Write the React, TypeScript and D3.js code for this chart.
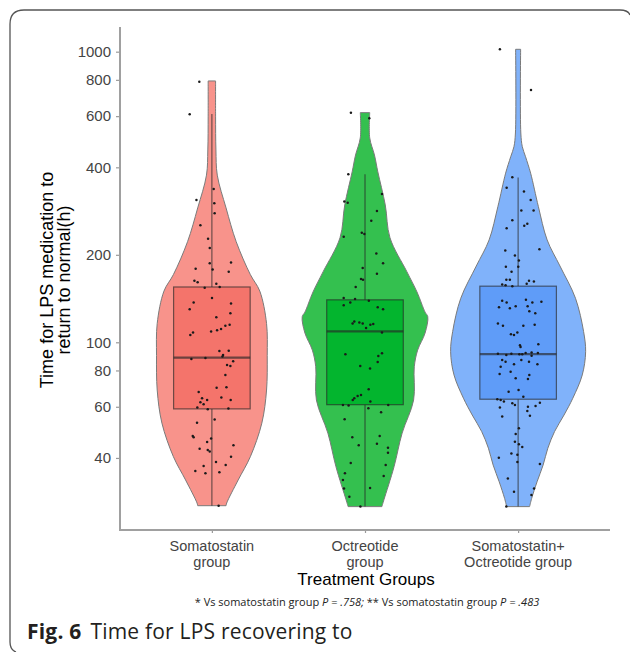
import React, { useEffect, useRef } from 'react';
import * as d3 from 'd3';

const groups = ['Somatostatin group', 'Octreotide group', 'Somatostatin+ Octreotide group'];
const groupLabels = [['Somatostatin', 'group'], ['Octreotide', 'group'], ['Somatostatin+', 'Octreotide group']];
const violinFill = ['#f8938b', '#34c04f', '#80b2fa'];
const boxFill = ['#f4746b', '#03b52e', '#5f9cf8'];

const yTicks = [40, 60, 80, 100, 200, 400, 600, 800, 1000];

// box statistics (h)
const lowerWhisker = [27.4, 27.2, 27.2];
const q1 = [59, 61, 63.7];
const medians = [88.5, 109, 91];
const q3 = [155, 140, 156];
const upperWhisker = [610, 379, 369];

// violin outlines: [value, relative density]
const violinSomatostatin: [number, number][] = [
  [793, 0.055], [600, 0.055], [459, 0.06], [376, 0.08], [290, 0.21], [222, 0.36], [171, 0.57],
  [150, 0.71], [116, 0.81], [90, 0.82], [68.5, 0.81], [52.7, 0.74], [40.4, 0.57], [33.6, 0.39],
  [28.0, 0.22], [27.4, 0.21],
];
const violinOctreotide: [number, number][] = [
  [617, 0.07], [505, 0.07], [441, 0.14], [386, 0.19], [297, 0.3], [229, 0.37], [175, 0.62],
  [149, 0.77], [127, 0.89], [122.5, 0.93], [107.6, 0.89], [94, 0.78], [82.4, 0.73], [63.3, 0.72],
  [48.7, 0.55], [37.3, 0.43], [28.7, 0.28], [27.2, 0.25],
];
const violinCombined: [number, number][] = [
  [1019, 0.037], [525, 0.04], [471, 0.062], [435, 0.11], [382, 0.185], [293, 0.3], [225, 0.43],
  [183, 0.62], [141.7, 0.85], [108.8, 0.97], [92.8, 1.0], [77.2, 0.95], [64.2, 0.81], [56.2, 0.68],
  [49.3, 0.54], [43.2, 0.44], [37.8, 0.37], [33.1, 0.28], [29.0, 0.2], [27.2, 0.17],
];

// jittered observations: [value, jitter in category units]
const pointsSomatostatin: [number, number][] = [
  [788, -0.082], [609, -0.145], [337, 0.012], [309, -0.101], [301, 0.016], [278, 0.018], [253, -0.075],
  [227, -0.025], [211, -0.014], [188, 0.125], [187, -0.014], [179, -0.106], [178, 0.005], [175, 0.11],
  [163, -0.114], [161, -0.093], [159, 0.029], [155, 0.051], [154, -0.047], [142, 0.001], [137, -0.119],
  [136, 0.125], [130, -0.145], [126, 0.121], [122, 0.029], [115, 0.116], [114, 0.088], [111, 0.06],
  [110, 0.034], [109, -0.005], [108, -0.123], [106, -0.141], [93.3, 0.049], [93.5, 0.11], [90.4, 0.073],
  [89.4, 0.069], [87.6, -0.134], [88.3, -0.042], [86.0, 0.139], [83.5, 0.099], [82.8, 0.121], [77.2, 0.088],
  [69.8, 0.031], [70.1, 0.095], [67.5, -0.086], [64.2, -0.064], [63.3, -0.031], [62.2, -0.075], [61.2, -0.054],
  [64.6, 0.062], [63.3, 0.123], [59.7, -0.095], [58.8, -0.027], [59.2, 0.108], [54.2, 0.018], [52.9, -0.097],
  [47.6, -0.125], [47.1, -0.119], [46.7, -0.005], [45.4, -0.031], [44.2, 0.141], [43.0, -0.08], [42.6, -0.027],
  [42.1, -0.014], [40.4, 0.125], [38.7, 0.027], [37.8, 0.09], [37.5, -0.054], [36.1, -0.108], [35.4, -0.042],
  [35.7, 0.049], [27.4, 0.044],
];
const pointsOctreotide: [number, number][] = [
  [617, -0.092], [590, 0.028], [379, -0.109], [324, 0.111], [305, -0.135], [302, -0.113], [283, 0.078],
  [262, 0.041], [238, -0.021], [236, -0.004], [231, -0.139], [202, 0.074], [187, 0.118], [180, -0.015],
  [172, 0.078], [165, -0.026], [164, -0.013], [155, -0.061], [142, -0.139], [141, -0.065], [137, -0.096],
  [139, 0.025], [134, -0.139], [132, 0.083], [130, 0.118], [116, -0.081], [118, -0.07], [117, -0.037],
  [116, -0.015], [112, 0.007], [115, 0.035], [115.5, 0.054], [108, 0.111], [90.9, -0.128], [91.6, 0.111],
  [89.7, 0.087], [85.5, 0.083], [82.8, -0.031], [81.2, 0.033], [68.9, 0.024], [65.9, -0.026], [65.4, -0.048],
  [64.2, -0.07], [63.3, -0.08], [62.5, 0.035], [60.8, -0.144], [60.6, -0.107], [60.8, 0.152], [59.3, 0.022],
  [57.4, 0.105], [54.3, -0.133], [47.1, -0.083], [47.6, 0.096], [44.2, -0.041], [44.8, 0.078], [43.4, 0.15],
  [41.7, 0.15], [38.4, -0.093], [37.8, 0.135], [35.4, -0.131], [34.7, 0.122], [33.6, -0.144], [31.4, -0.137],
  [31.5, 0.033], [29.4, -0.102], [27.2, -0.03],
];
const pointsCombined: [number, number][] = [
  [1019, -0.119], [738, 0.084], [370, -0.038], [340, -0.075], [330, 0.038], [309, 0.082], [284, 0.021],
  [284, 0.101], [263, -0.038], [256, 0.06], [252, 0.04], [247, -0.075], [207, -0.084], [209, 0.139],
  [199, -0.021], [191, 0.005], [182, -0.08], [182, 0.001], [175, -0.043], [164, -0.077], [164, -0.054],
  [158, -0.104], [157, -0.082], [156, -0.038], [163, 0.071], [162, 0.103], [159, 0.056], [139, -0.104],
  [137, -0.075], [132, -0.125], [131, -0.054], [133, -0.016], [140, 0.051], [137, 0.093], [138, 0.152],
  [133, 0.062], [128, 0.073], [126, 0.112], [116, -0.132], [114, -0.099], [114, 0.034], [115, 0.108],
  [106.5, -0.047], [106, -0.027], [108, -0.005], [98.4, 0.132], [97.7, 0.012], [96.3, 0.016], [91.4, -0.132],
  [90.4, -0.077], [91.4, -0.044], [91.0, 0.008], [91.0, 0.027], [91.8, 0.049], [92.3, 0.088], [91.8, 0.129],
  [89.9, 0.088], [86.9, -0.104], [85.8, -0.082], [86.9, 0.021], [85.8, 0.071], [82.4, -0.114], [84.1, -0.027],
  [84.1, 0.126], [77.8, -0.121], [79.2, -0.049], [77.2, 0.073], [75.2, -0.016], [74.7, 0.064], [67.6, -0.062],
  [68.5, 0.003], [65.0, 0.034], [63.7, -0.136], [63.3, -0.114], [62.5, -0.093], [61.7, -0.038], [60.8, -0.021],
  [59.6, -0.119], [60.0, 0.064], [60.4, 0.114], [62.0, 0.142], [58.0, 0.06], [55.9, 0.077], [55.5, -0.104],
  [50.6, 0.005], [48.4, -0.016], [45.5, -0.021], [44.6, 0.005], [43.6, 0.027], [41.4, -0.044], [41.0, -0.005],
  [40.1, -0.126], [38.7, -0.005], [38.1, 0.142], [34.0, -0.067], [30.6, -0.027], [31.4, 0.104], [29.8, 0.087],
  [27.2, -0.077],
];

const violins = [violinSomatostatin, violinOctreotide, violinCombined];
const points = [pointsSomatostatin, pointsOctreotide, pointsCombined];

export default function App() {
  const ref = useRef<SVGSVGElement>(null);

  useEffect(() => {
    if (!ref.current) return;
    const width = 630;
    const height = 652;
    const plot = { left: 120, right: 610, top: 27, bottom: 530 };
    const axisFont = '"Liberation Sans", Arial, sans-serif';

    const svg = d3.select(ref.current);
    svg.selectAll('*').remove();

    svg.append('rect').attr('width', width).attr('height', height).attr('fill', '#fff');

    // figure frame
    svg.append('path')
      .attr('d', 'M16,652 Q10,650 10,642 L10,24 Q10,10 24,10 L620,10 Q628,10 630,15')
      .attr('fill', 'none')
      .attr('stroke', '#555')
      .attr('stroke-width', 1.3);

    const x = d3.scalePoint<string>()
      .domain(groups)
      .range([plot.left, plot.right])
      .padding(0.6);
    const step = x.step();

    const y = d3.scaleLog()
      .domain([22.6, 1216])
      .range([plot.bottom, plot.top]);

    const w = d3.scaleLinear().domain([0, 1]).range([0, 67.5]);

    // axes
    const yAxis = svg.append('g')
      .attr('transform', `translate(${plot.left},0)`)
      .call(d3.axisLeft(y).tickValues(yTicks).tickFormat(d3.format('d')).tickSize(4).tickPadding(5));
    yAxis.select('.domain').remove();
    yAxis.selectAll('line').attr('stroke', '#9a9a9a').attr('stroke-width', 1.2);
    yAxis.selectAll('text')
      .attr('fill', '#444')
      .style('font-size', '15px')
      .style('font-family', axisFont);

    const xAxis = svg.append('g')
      .attr('transform', `translate(0,${plot.bottom})`)
      .call(d3.axisBottom(x).tickSize(3).tickFormat(() => ''));
    xAxis.select('.domain').remove();
    xAxis.selectAll('line').attr('stroke', '#9a9a9a').attr('stroke-width', 1.2);

    svg.append('line')
      .attr('x1', plot.left).attr('x2', plot.left)
      .attr('y1', plot.top).attr('y2', plot.bottom + 1)
      .attr('stroke', '#a0a0a0').attr('stroke-width', 2);
    svg.append('line')
      .attr('x1', plot.left - 1).attr('x2', plot.right)
      .attr('y1', plot.bottom).attr('y2', plot.bottom)
      .attr('stroke', '#a0a0a0').attr('stroke-width', 2);

    // category labels
    groups.forEach((g, i) => {
      const t = svg.append('text')
        .attr('x', x(g)!)
        .attr('y', 551)
        .attr('text-anchor', 'middle')
        .attr('fill', '#444')
        .style('font-size', '14.5px')
        .style('font-family', axisFont);
      groupLabels[i].forEach((line, k) => {
        t.append('tspan').attr('x', x(g)!).attr('dy', k === 0 ? 0 : 16).text(line);
      });
    });

    svg.append('text')
      .attr('x', 366)
      .attr('y', 585)
      .attr('text-anchor', 'middle')
      .attr('fill', '#000')
      .style('font-size', '17px')
      .style('font-family', axisFont)
      .text('Treatment Groups');

    const yTitle = svg.append('text')
      .attr('transform', 'translate(53,280) rotate(-90)')
      .attr('text-anchor', 'middle')
      .attr('fill', '#000')
      .style('font-size', '18px')
      .style('font-family', axisFont);
    yTitle.append('tspan').attr('x', 0).attr('dy', 0).text('Time for LPS medication to');
    yTitle.append('tspan').attr('x', 0).attr('dy', 17).text('return to normal(h)');

    // violins
    const area = d3.area<[number, number]>()
      .y(d => y(d[0]))
      .curve(d3.curveCatmullRom);

    groups.forEach((g, i) => {
      const cx = x(g)!;
      svg.append('path')
        .datum(violins[i])
        .attr('d', area.x0(d => cx - w(d[1])).x1(d => cx + w(d[1]))(violins[i])!)
        .attr('fill', violinFill[i])
        .attr('stroke', '#7a7a7a')
        .attr('stroke-width', 1);
    });

    // boxplots
    const boxW = step * 0.5;
    groups.forEach((g, i) => {
      const cx = x(g)!;
      const bg = svg.append('g')
        .attr('stroke', '#262626')
        .attr('stroke-opacity', 0.65);
      bg.append('line')
        .attr('x1', cx).attr('x2', cx)
        .attr('y1', y(upperWhisker[i])).attr('y2', y(q3[i]))
        .attr('stroke-width', 1.2);
      bg.append('line')
        .attr('x1', cx).attr('x2', cx)
        .attr('y1', y(q1[i])).attr('y2', y(lowerWhisker[i]))
        .attr('stroke-width', 1.2);
      bg.append('rect')
        .attr('x', cx - boxW / 2)
        .attr('width', boxW)
        .attr('y', y(q3[i]))
        .attr('height', y(q1[i]) - y(q3[i]))
        .attr('fill', boxFill[i])
        .attr('stroke-width', 1.2);
      bg.append('line')
        .attr('x1', cx - boxW / 2).attr('x2', cx + boxW / 2)
        .attr('y1', y(medians[i])).attr('y2', y(medians[i]))
        .attr('stroke-width', 2.2);
    });

    // jittered points
    groups.forEach((g, i) => {
      const cx = x(g)!;
      svg.append('g')
        .selectAll('circle')
        .data(points[i])
        .join('circle')
        .attr('cx', d => cx + d[1] * step)
        .attr('cy', d => y(d[0]))
        .attr('r', 1.25)
        .attr('fill', '#1a1a1a');
    });

    // footnote
    const note = svg.append('text')
      .attr('x', 367)
      .attr('y', 606)
      .attr('text-anchor', 'middle')
      .attr('fill', '#222')
      .style('font-size', '11px')
      .style('font-family', '"Open Sans", sans-serif');
    note.append('tspan').text('*  Vs somatostatin group ');
    note.append('tspan').style('font-style', 'italic').text('P = .758;');
    note.append('tspan').text('  **  Vs somatostatin group ');
    note.append('tspan').style('font-style', 'italic').text('P = .483');

    // caption
    const cap = svg.append('text')
      .attr('x', 27)
      .attr('y', 639)
      .attr('fill', '#231f20')
      .style('font-size', '21px')
      .style('letter-spacing', '0.2px')
      .style('font-family', '"Open Sans", sans-serif');
    cap.append('tspan').style('font-weight', 'bold').text('Fig. 6');
    cap.append('tspan').attr('dx', 9).text('Time for LPS recovering to');
  }, []);

  return (
    <svg
      ref={ref}
      width={630}
      height={652}
      style={{ position: 'absolute', left: 0, top: 0, display: 'block' }}
    />
  );
}
